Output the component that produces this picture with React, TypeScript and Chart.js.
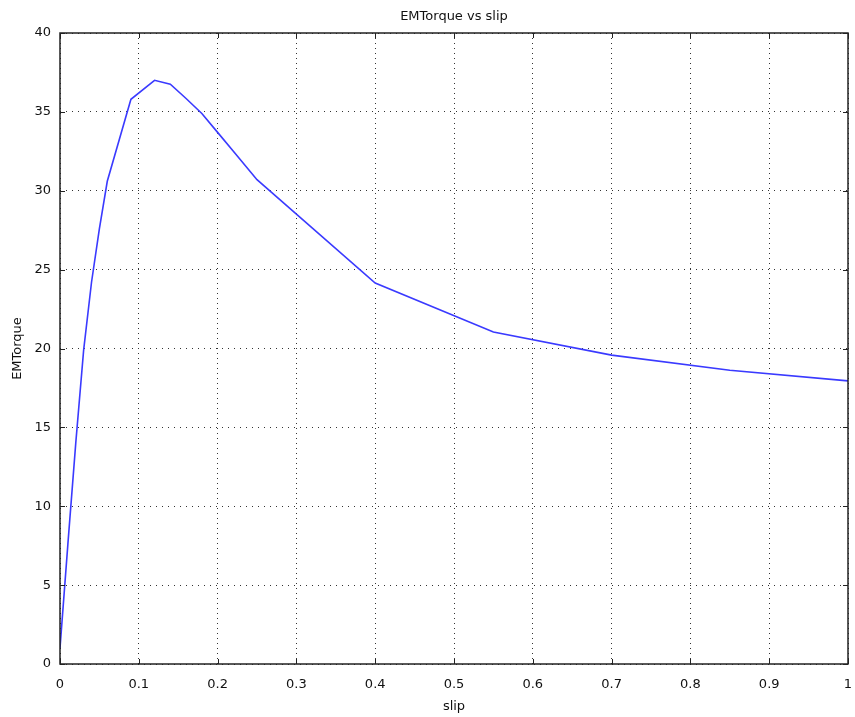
import React, { useEffect, useRef } from "react";
import { Chart, registerables } from "chart.js";

Chart.register(...registerables);

const title = "EMTorque vs slip";
const xLabel = "slip";
const yLabel = "EMTorque";
const slip = [0, 0.01, 0.02, 0.03, 0.04, 0.05, 0.06, 0.09, 0.12, 0.14, 0.16, 0.18, 0.2, 0.22, 0.25, 0.4, 0.55, 0.7, 0.85, 1.0];
const torque = [1.0, 7.6, 14.0, 19.9, 24.2, 27.6, 30.6, 35.8, 37.0, 36.75, 35.85, 34.9, 33.7, 32.5, 30.7, 24.15, 21.05, 19.58, 18.62, 17.95];
const xTicks = [0, 0.1, 0.2, 0.3, 0.4, 0.5, 0.6, 0.7, 0.8, 0.9, 1];
const yTicks = [0, 5, 10, 15, 20, 25, 30, 35, 40];

const FONT = "'DejaVu Sans', sans-serif";

export default function App() {
  const ref = useRef<HTMLCanvasElement | null>(null);
  useEffect(() => {
    document.body.style.margin = "0";
    const ctx = ref.current!;
    const frame = {
      id: "frame",
      afterDraw(chart: any) {
        const { ctx, chartArea: a, scales } = chart;
        ctx.save();
        ctx.strokeStyle = "#222";
        ctx.lineWidth = 1.5;
        ctx.strokeRect(a.left, a.top, a.right - a.left, a.bottom - a.top);
        ctx.lineWidth = 1;
        for (const v of xTicks) {
          const px = Math.round(scales.x.getPixelForValue(v)) + 0.5;
          ctx.beginPath();
          ctx.moveTo(px, a.bottom);
          ctx.lineTo(px, a.bottom - 5);
          ctx.moveTo(px, a.top);
          ctx.lineTo(px, a.top + 5);
          ctx.stroke();
        }
        for (const v of yTicks) {
          const py = Math.round(scales.y.getPixelForValue(v)) + 0.5;
          ctx.beginPath();
          ctx.moveTo(a.left, py);
          ctx.lineTo(a.left + 5, py);
          ctx.moveTo(a.right, py);
          ctx.lineTo(a.right - 5, py);
          ctx.stroke();
        }
        ctx.fillStyle = "#111";
        ctx.font = "13px " + FONT;
        ctx.textAlign = "center";
        ctx.textBaseline = "middle";
        const cx = (a.left + a.right) / 2;
        ctx.fillText(title, cx, 17);
        ctx.fillText(xLabel, cx, 707);
        ctx.translate(18, (a.top + a.bottom) / 2);
        ctx.rotate(-Math.PI / 2);
        ctx.fillText(yLabel, 0, 0);
        ctx.restore();
      },
    };
    const chart = new Chart(ctx, {
      type: "line",
      data: {
        datasets: [
          {
            data: slip.map((s, i) => ({ x: s, y: torque[i] })),
            borderColor: "#3a3aff",
            borderWidth: 1.6,
            pointRadius: 0,
            tension: 0,
            fill: false,
          },
        ],
      },
      plugins: [frame],
      options: {
        animation: false,
        responsive: false,
        maintainAspectRatio: false,
        layout: { padding: { left: 0, top: 33, right: 7, bottom: 0 } },
        plugins: { legend: { display: false }, title: { display: false }, tooltip: { enabled: false } },
        scales: {
          x: {
            type: "linear",
            min: 0,
            max: 1,
            afterFit: (s: any) => { s.height = 53; s.paddingLeft = 0; s.paddingRight = 0; },
            afterBuildTicks: (s: any) => { s.ticks = xTicks.map((v) => ({ value: v })); },
            border: { display: false, dash: [1, 4] },
            grid: { color: "#333", lineWidth: 1, drawTicks: false },
            ticks: { color: "#111", font: { family: FONT, size: 13 }, padding: 13, maxRotation: 0, callback: (v: any) => String(v) },
          },
          y: {
            type: "linear",
            min: 0,
            max: 40,
            afterFit: (s: any) => { s.width = 60; s.paddingTop = 0; s.paddingBottom = 0; },
            afterBuildTicks: (s: any) => { s.ticks = yTicks.map((v) => ({ value: v })); },
            border: { display: false, dash: [1, 5] },
            grid: { color: "#333", lineWidth: 1, drawTicks: false },
            ticks: { color: "#111", font: { family: FONT, size: 13 }, padding: 9, callback: (v: any) => String(v) },
          },
        },
      },
    });
    return () => chart.destroy();
  }, []);
  return (
    <div style={{ position: "absolute", left: 0, top: 0, width: 855, height: 717, background: "#fff" }}>
      <canvas ref={ref} width={855} height={717} style={{ width: 855, height: 717 }} />
    </div>
  );
}
